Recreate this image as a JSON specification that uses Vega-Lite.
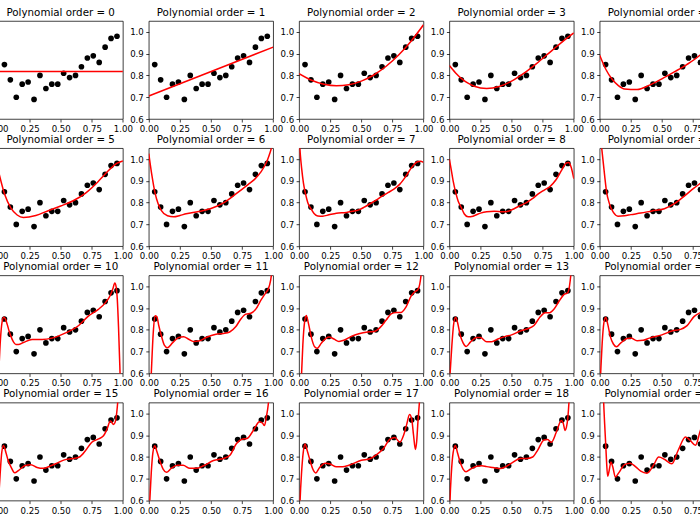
{
"$schema":"https://vega.github.io/schema/vega-lite/v6.json",
"padding":{"left":-21.5,"top":7,"right":-33,"bottom":0},
"background":"#ffffff",
"columns":5,
"spacing":{"row":29.2,"column":25.3},
"bounds":"flush",
"datasets":{
"pts":[
{"x":0.0476,"y":0.85},{"x":0.0952,"y":0.78},{"x":0.1429,"y":0.70},{"x":0.1905,"y":0.76},{"x":0.2381,"y":0.77},
{"x":0.2857,"y":0.69},{"x":0.3333,"y":0.80},{"x":0.3810,"y":0.74},{"x":0.4286,"y":0.76},{"x":0.4762,"y":0.76},
{"x":0.5238,"y":0.81},{"x":0.5714,"y":0.79},{"x":0.6190,"y":0.80},{"x":0.6667,"y":0.84},{"x":0.7143,"y":0.88},
{"x":0.7619,"y":0.89},{"x":0.8095,"y":0.86},{"x":0.8571,"y":0.93},{"x":0.9048,"y":0.97},{"x":0.9524,"y":0.98}
],
"fit":[
{"order":0,"x":0,"y":0.818},{"order":0,"x":1,"y":0.818},
{"order":1,"x":0,"y":0.7059},{"order":1,"x":1,"y":0.9301},
{"order":2,"x":0,"y":0.8084},{"order":2,"x":0.1,"y":0.778},{"order":2,"x":0.2,"y":0.7593},{"order":2,"x":0.3,"y":0.7524},{"order":2,"x":0.4,"y":0.7572},{"order":2,"x":0.5,"y":0.7738},{"order":2,"x":0.6,"y":0.8021},{"order":2,"x":0.7,"y":0.8421},{"order":2,"x":0.8,"y":0.8938},{"order":2,"x":0.9,"y":0.9573},{"order":2,"x":1,"y":1.0326},
{"order":3,"x":0,"y":0.8455},{"order":3,"x":0.05,"y":0.8113},{"order":3,"x":0.1,"y":0.7844},{"order":3,"x":0.15,"y":0.7643},{"order":3,"x":0.2,"y":0.7505},{"order":3,"x":0.3,"y":0.7401},{"order":3,"x":0.4,"y":0.7491},{"order":3,"x":0.5,"y":0.7738},{"order":3,"x":0.6,"y":0.8102},{"order":3,"x":0.7,"y":0.8544},{"order":3,"x":0.8,"y":0.9026},{"order":3,"x":0.85,"y":0.927},{"order":3,"x":0.9,"y":0.9509},{"order":3,"x":0.95,"y":0.9739},{"order":3,"x":1,"y":0.9955},
{"order":4,"x":0,"y":0.8924},{"order":4,"x":0.05,"y":0.8272},{"order":4,"x":0.1,"y":0.7822},{"order":4,"x":0.15,"y":0.7536},{"order":4,"x":0.2,"y":0.7382},{"order":4,"x":0.3,"y":0.7356},{"order":4,"x":0.4,"y":0.7553},{"order":4,"x":0.5,"y":0.7845},{"order":4,"x":0.6,"y":0.8164},{"order":4,"x":0.7,"y":0.8499},{"order":4,"x":0.8,"y":0.8903},{"order":4,"x":0.85,"y":0.9164},{"order":4,"x":0.9,"y":0.9487},{"order":4,"x":0.95,"y":0.9898},{"order":4,"x":1,"y":1.0424},
{"order":5,"x":0,"y":0.9438},{"order":5,"x":0.05,"y":0.8371},{"order":5,"x":0.1,"y":0.7748},{"order":5,"x":0.15,"y":0.7433},{"order":5,"x":0.2,"y":0.7322},{"order":5,"x":0.3,"y":0.7414},{"order":5,"x":0.4,"y":0.7631},{"order":5,"x":0.5,"y":0.7845},{"order":5,"x":0.6,"y":0.8086},{"order":5,"x":0.7,"y":0.8441},{"order":5,"x":0.8,"y":0.8963},{"order":5,"x":0.85,"y":0.9267},{"order":5,"x":0.9,"y":0.9561},{"order":5,"x":0.95,"y":0.9799},{"order":5,"x":1,"y":0.991},
{"order":6,"x":0,"y":1.025},{"order":6,"x":0.025,"y":0.925},{"order":6,"x":0.05,"y":0.845},{"order":6,"x":0.075,"y":0.795},{"order":6,"x":0.1,"y":0.765},{"order":6,"x":0.15,"y":0.74},{"order":6,"x":0.2,"y":0.735},{"order":6,"x":0.25,"y":0.741},{"order":6,"x":0.3,"y":0.749},{"order":6,"x":0.4,"y":0.759},{"order":6,"x":0.5,"y":0.773},{"order":6,"x":0.6,"y":0.799},{"order":6,"x":0.7,"y":0.84},{"order":6,"x":0.8,"y":0.884},{"order":6,"x":0.85,"y":0.907},{"order":6,"x":0.9,"y":0.94},{"order":6,"x":0.95,"y":0.99},{"order":6,"x":0.975,"y":1.03},{"order":6,"x":1,"y":1.08},
{"order":7,"x":0,"y":1.1},{"order":7,"x":0.01,"y":1.02},{"order":7,"x":0.02,"y":0.96},{"order":7,"x":0.035,"y":0.89},{"order":7,"x":0.05,"y":0.845},{"order":7,"x":0.07,"y":0.8},{"order":7,"x":0.095,"y":0.772},{"order":7,"x":0.12,"y":0.75},{"order":7,"x":0.15,"y":0.739},{"order":7,"x":0.19,"y":0.738},{"order":7,"x":0.24,"y":0.744},{"order":7,"x":0.3,"y":0.751},{"order":7,"x":0.38,"y":0.755},{"order":7,"x":0.43,"y":0.76},{"order":7,"x":0.48,"y":0.767},{"order":7,"x":0.52,"y":0.778},{"order":7,"x":0.57,"y":0.795},{"order":7,"x":0.62,"y":0.812},{"order":7,"x":0.667,"y":0.83},{"order":7,"x":0.714,"y":0.846},{"order":7,"x":0.762,"y":0.862},{"order":7,"x":0.81,"y":0.885},{"order":7,"x":0.857,"y":0.92},{"order":7,"x":0.905,"y":0.962},{"order":7,"x":0.952,"y":0.988},{"order":7,"x":0.975,"y":0.99},{"order":7,"x":1,"y":0.985},
{"order":8,"x":0,"y":1.0},{"order":8,"x":0.015,"y":0.95},{"order":8,"x":0.03,"y":0.9},{"order":8,"x":0.048,"y":0.853},{"order":8,"x":0.07,"y":0.808},{"order":8,"x":0.095,"y":0.778},{"order":8,"x":0.12,"y":0.748},{"order":8,"x":0.15,"y":0.735},{"order":8,"x":0.19,"y":0.738},{"order":8,"x":0.25,"y":0.752},{"order":8,"x":0.3,"y":0.758},{"order":8,"x":0.36,"y":0.76},{"order":8,"x":0.43,"y":0.758},{"order":8,"x":0.48,"y":0.762},{"order":8,"x":0.52,"y":0.772},{"order":8,"x":0.57,"y":0.787},{"order":8,"x":0.62,"y":0.8},{"order":8,"x":0.667,"y":0.818},{"order":8,"x":0.714,"y":0.84},{"order":8,"x":0.762,"y":0.858},{"order":8,"x":0.81,"y":0.875},{"order":8,"x":0.857,"y":0.905},{"order":8,"x":0.905,"y":0.952},{"order":8,"x":0.94,"y":0.982},{"order":8,"x":0.96,"y":0.984},{"order":8,"x":0.98,"y":0.96},{"order":8,"x":1,"y":0.91},
{"order":9,"x":0,"y":1.15},{"order":9,"x":0.01,"y":1.08},{"order":9,"x":0.02,"y":1.03},{"order":9,"x":0.04,"y":0.923},{"order":9,"x":0.054,"y":0.854},{"order":9,"x":0.08,"y":0.792},{"order":9,"x":0.11,"y":0.755},{"order":9,"x":0.147,"y":0.738},{"order":9,"x":0.2,"y":0.74},{"order":9,"x":0.25,"y":0.745},{"order":9,"x":0.33,"y":0.752},{"order":9,"x":0.42,"y":0.762},{"order":9,"x":0.52,"y":0.772},{"order":9,"x":0.6,"y":0.795},{"order":9,"x":0.68,"y":0.83},{"order":9,"x":0.76,"y":0.868},{"order":9,"x":0.82,"y":0.893},{"order":9,"x":0.86,"y":0.91},{"order":9,"x":0.9,"y":0.945},{"order":9,"x":0.95,"y":0.985},{"order":9,"x":1,"y":0.96},
{"order":10,"x":0,"y":0.58},{"order":10,"x":0.01,"y":0.7},{"order":10,"x":0.02,"y":0.79},{"order":10,"x":0.03,"y":0.84},{"order":10,"x":0.042,"y":0.858},{"order":10,"x":0.055,"y":0.85},{"order":10,"x":0.07,"y":0.825},{"order":10,"x":0.085,"y":0.795},{"order":10,"x":0.1,"y":0.77},{"order":10,"x":0.12,"y":0.745},{"order":10,"x":0.14,"y":0.733},{"order":10,"x":0.16,"y":0.733},{"order":10,"x":0.2,"y":0.742},{"order":10,"x":0.27,"y":0.756},{"order":10,"x":0.35,"y":0.756},{"order":10,"x":0.43,"y":0.762},{"order":10,"x":0.54,"y":0.786},{"order":10,"x":0.645,"y":0.82},{"order":10,"x":0.72,"y":0.862},{"order":10,"x":0.8,"y":0.893},{"order":10,"x":0.86,"y":0.925},{"order":10,"x":0.9,"y":0.96},{"order":10,"x":0.92,"y":0.99},{"order":10,"x":0.935,"y":1.015},{"order":10,"x":0.945,"y":1.0},{"order":10,"x":0.955,"y":0.94},{"order":10,"x":0.965,"y":0.81},{"order":10,"x":0.975,"y":0.64},{"order":10,"x":0.985,"y":0.45},{"order":10,"x":1,"y":0.1},
{"order":11,"x":0,"y":0.35},{"order":11,"x":0.02,"y":0.6},{"order":11,"x":0.035,"y":0.78},{"order":11,"x":0.05,"y":0.865},{"order":11,"x":0.065,"y":0.86},{"order":11,"x":0.08,"y":0.82},{"order":11,"x":0.1,"y":0.775},{"order":11,"x":0.125,"y":0.73},{"order":11,"x":0.15,"y":0.718},{"order":11,"x":0.19,"y":0.74},{"order":11,"x":0.24,"y":0.765},{"order":11,"x":0.28,"y":0.768},{"order":11,"x":0.32,"y":0.757},{"order":11,"x":0.36,"y":0.747},{"order":11,"x":0.41,"y":0.75},{"order":11,"x":0.46,"y":0.765},{"order":11,"x":0.54,"y":0.78},{"order":11,"x":0.6,"y":0.783},{"order":11,"x":0.65,"y":0.79},{"order":11,"x":0.7,"y":0.815},{"order":11,"x":0.74,"y":0.85},{"order":11,"x":0.78,"y":0.872},{"order":11,"x":0.82,"y":0.876},{"order":11,"x":0.86,"y":0.895},{"order":11,"x":0.9,"y":0.935},{"order":11,"x":0.94,"y":0.97},{"order":11,"x":0.96,"y":0.987},{"order":11,"x":0.98,"y":1.03},{"order":11,"x":1,"y":1.12},
{"order":12,"x":0,"y":0.3},{"order":12,"x":0.02,"y":0.6},{"order":12,"x":0.03,"y":0.73},{"order":12,"x":0.045,"y":0.84},{"order":12,"x":0.058,"y":0.866},{"order":12,"x":0.075,"y":0.83},{"order":12,"x":0.1,"y":0.762},{"order":12,"x":0.125,"y":0.722},{"order":12,"x":0.145,"y":0.715},{"order":12,"x":0.18,"y":0.74},{"order":12,"x":0.24,"y":0.767},{"order":12,"x":0.28,"y":0.758},{"order":12,"x":0.32,"y":0.747},{"order":12,"x":0.36,"y":0.752},{"order":12,"x":0.42,"y":0.77},{"order":12,"x":0.48,"y":0.782},{"order":12,"x":0.55,"y":0.79},{"order":12,"x":0.6,"y":0.792},{"order":12,"x":0.65,"y":0.81},{"order":12,"x":0.7,"y":0.845},{"order":12,"x":0.74,"y":0.873},{"order":12,"x":0.78,"y":0.88},{"order":12,"x":0.82,"y":0.88},{"order":12,"x":0.86,"y":0.905},{"order":12,"x":0.9,"y":0.955},{"order":12,"x":0.93,"y":0.975},{"order":12,"x":0.955,"y":0.985},{"order":12,"x":0.97,"y":1.01},{"order":12,"x":0.985,"y":1.08},{"order":12,"x":1,"y":1.25},
{"order":13,"x":0,"y":0.55},{"order":13,"x":0.01,"y":0.64},{"order":13,"x":0.02,"y":0.73},{"order":13,"x":0.035,"y":0.83},{"order":13,"x":0.05,"y":0.858},{"order":13,"x":0.065,"y":0.835},{"order":13,"x":0.085,"y":0.78},{"order":13,"x":0.11,"y":0.74},{"order":13,"x":0.135,"y":0.724},{"order":13,"x":0.17,"y":0.745},{"order":13,"x":0.22,"y":0.765},{"order":13,"x":0.25,"y":0.765},{"order":13,"x":0.3,"y":0.745},{"order":13,"x":0.34,"y":0.745},{"order":13,"x":0.39,"y":0.758},{"order":13,"x":0.45,"y":0.77},{"order":13,"x":0.5,"y":0.777},{"order":13,"x":0.57,"y":0.795},{"order":13,"x":0.63,"y":0.805},{"order":13,"x":0.68,"y":0.82},{"order":13,"x":0.73,"y":0.86},{"order":13,"x":0.77,"y":0.878},{"order":13,"x":0.8,"y":0.878},{"order":13,"x":0.84,"y":0.895},{"order":13,"x":0.88,"y":0.93},{"order":13,"x":0.92,"y":0.962},{"order":13,"x":0.95,"y":0.97},{"order":13,"x":0.965,"y":1.0},{"order":13,"x":0.98,"y":1.08},{"order":13,"x":1,"y":1.3},
{"order":14,"x":0,"y":0.5},{"order":14,"x":0.01,"y":0.63},{"order":14,"x":0.02,"y":0.74},{"order":14,"x":0.033,"y":0.83},{"order":14,"x":0.048,"y":0.858},{"order":14,"x":0.065,"y":0.825},{"order":14,"x":0.085,"y":0.77},{"order":14,"x":0.11,"y":0.735},{"order":14,"x":0.135,"y":0.722},{"order":14,"x":0.17,"y":0.74},{"order":14,"x":0.22,"y":0.76},{"order":14,"x":0.25,"y":0.762},{"order":14,"x":0.3,"y":0.75},{"order":14,"x":0.35,"y":0.752},{"order":14,"x":0.4,"y":0.762},{"order":14,"x":0.5,"y":0.777},{"order":14,"x":0.58,"y":0.795},{"order":14,"x":0.65,"y":0.802},{"order":14,"x":0.7,"y":0.818},{"order":14,"x":0.76,"y":0.862},{"order":14,"x":0.82,"y":0.882},{"order":14,"x":0.86,"y":0.89},{"order":14,"x":0.9,"y":0.94},{"order":14,"x":0.95,"y":0.97},{"order":14,"x":1,"y":1.1},
{"order":15,"x":0,"y":0.6},{"order":15,"x":0.013,"y":0.72},{"order":15,"x":0.026,"y":0.82},{"order":15,"x":0.04,"y":0.853},{"order":15,"x":0.06,"y":0.82},{"order":15,"x":0.08,"y":0.78},{"order":15,"x":0.1,"y":0.755},{"order":15,"x":0.13,"y":0.728},{"order":15,"x":0.16,"y":0.738},{"order":15,"x":0.21,"y":0.76},{"order":15,"x":0.26,"y":0.765},{"order":15,"x":0.31,"y":0.752},{"order":15,"x":0.36,"y":0.748},{"order":15,"x":0.42,"y":0.76},{"order":15,"x":0.47,"y":0.772},{"order":15,"x":0.53,"y":0.787},{"order":15,"x":0.6,"y":0.793},{"order":15,"x":0.65,"y":0.8},{"order":15,"x":0.7,"y":0.83},{"order":15,"x":0.75,"y":0.868},{"order":15,"x":0.8,"y":0.882},{"order":15,"x":0.84,"y":0.895},{"order":15,"x":0.87,"y":0.925},{"order":15,"x":0.9,"y":0.965},{"order":15,"x":0.925,"y":0.95},{"order":15,"x":0.94,"y":0.965},{"order":15,"x":0.955,"y":1.03},{"order":15,"x":0.97,"y":1.15},{"order":15,"x":1,"y":1.5},
{"order":16,"x":0,"y":0.5},{"order":16,"x":0.008,"y":0.6},{"order":16,"x":0.02,"y":0.73},{"order":16,"x":0.033,"y":0.82},{"order":16,"x":0.048,"y":0.852},{"order":16,"x":0.065,"y":0.825},{"order":16,"x":0.088,"y":0.784},{"order":16,"x":0.115,"y":0.745},{"order":16,"x":0.142,"y":0.73},{"order":16,"x":0.18,"y":0.748},{"order":16,"x":0.23,"y":0.762},{"order":16,"x":0.276,"y":0.762},{"order":16,"x":0.33,"y":0.748},{"order":16,"x":0.38,"y":0.748},{"order":16,"x":0.44,"y":0.76},{"order":16,"x":0.52,"y":0.784},{"order":16,"x":0.6,"y":0.793},{"order":16,"x":0.65,"y":0.807},{"order":16,"x":0.705,"y":0.862},{"order":16,"x":0.75,"y":0.882},{"order":16,"x":0.79,"y":0.885},{"order":16,"x":0.84,"y":0.922},{"order":16,"x":0.89,"y":0.962},{"order":16,"x":0.915,"y":0.955},{"order":16,"x":0.93,"y":0.945},{"order":16,"x":0.945,"y":0.985},{"order":16,"x":0.96,"y":1.04},{"order":16,"x":0.98,"y":1.2},{"order":16,"x":1,"y":1.5},
{"order":17,"x":0,"y":0.45},{"order":17,"x":0.008,"y":0.6},{"order":17,"x":0.02,"y":0.73},{"order":17,"x":0.033,"y":0.82},{"order":17,"x":0.048,"y":0.86},{"order":17,"x":0.065,"y":0.83},{"order":17,"x":0.088,"y":0.784},{"order":17,"x":0.11,"y":0.745},{"order":17,"x":0.134,"y":0.727},{"order":17,"x":0.165,"y":0.752},{"order":17,"x":0.21,"y":0.772},{"order":17,"x":0.25,"y":0.768},{"order":17,"x":0.3,"y":0.755},{"order":17,"x":0.35,"y":0.755},{"order":17,"x":0.4,"y":0.762},{"order":17,"x":0.5,"y":0.785},{"order":17,"x":0.57,"y":0.792},{"order":17,"x":0.62,"y":0.81},{"order":17,"x":0.68,"y":0.84},{"order":17,"x":0.73,"y":0.882},{"order":17,"x":0.77,"y":0.89},{"order":17,"x":0.81,"y":0.868},{"order":17,"x":0.84,"y":0.9},{"order":17,"x":0.865,"y":0.95},{"order":17,"x":0.888,"y":0.995},{"order":17,"x":0.905,"y":0.975},{"order":17,"x":0.92,"y":0.9},{"order":17,"x":0.935,"y":0.835},{"order":17,"x":0.945,"y":0.87},{"order":17,"x":0.955,"y":0.96},{"order":17,"x":0.968,"y":1.06},{"order":17,"x":0.98,"y":1.2},{"order":17,"x":1,"y":1.5},
{"order":18,"x":0,"y":0.5},{"order":18,"x":0.005,"y":0.6},{"order":18,"x":0.015,"y":0.72},{"order":18,"x":0.03,"y":0.82},{"order":18,"x":0.048,"y":0.853},{"order":18,"x":0.065,"y":0.82},{"order":18,"x":0.085,"y":0.78},{"order":18,"x":0.11,"y":0.745},{"order":18,"x":0.134,"y":0.733},{"order":18,"x":0.17,"y":0.745},{"order":18,"x":0.22,"y":0.758},{"order":18,"x":0.26,"y":0.76},{"order":18,"x":0.3,"y":0.756},{"order":18,"x":0.35,"y":0.752},{"order":18,"x":0.41,"y":0.747},{"order":18,"x":0.45,"y":0.755},{"order":18,"x":0.5,"y":0.772},{"order":18,"x":0.57,"y":0.793},{"order":18,"x":0.62,"y":0.793},{"order":18,"x":0.67,"y":0.8},{"order":18,"x":0.71,"y":0.832},{"order":18,"x":0.76,"y":0.878},{"order":18,"x":0.79,"y":0.88},{"order":18,"x":0.82,"y":0.868},{"order":18,"x":0.86,"y":0.915},{"order":18,"x":0.9,"y":0.968},{"order":18,"x":0.915,"y":0.955},{"order":18,"x":0.93,"y":0.922},{"order":18,"x":0.94,"y":0.935},{"order":18,"x":0.952,"y":0.98},{"order":18,"x":0.962,"y":1.06},{"order":18,"x":0.98,"y":1.3},{"order":18,"x":1,"y":1.6},
{"order":19,"x":0,"y":2.0},{"order":19,"x":0.02,"y":1.3},{"order":19,"x":0.032,"y":1.05},{"order":19,"x":0.04,"y":0.95},{"order":19,"x":0.048,"y":0.862},{"order":19,"x":0.055,"y":0.78},{"order":19,"x":0.064,"y":0.712},{"order":19,"x":0.075,"y":0.735},{"order":19,"x":0.091,"y":0.777},{"order":19,"x":0.105,"y":0.755},{"order":19,"x":0.126,"y":0.708},{"order":19,"x":0.15,"y":0.725},{"order":19,"x":0.2,"y":0.765},{"order":19,"x":0.245,"y":0.772},{"order":19,"x":0.29,"y":0.755},{"order":19,"x":0.33,"y":0.735},{"order":19,"x":0.38,"y":0.726},{"order":19,"x":0.43,"y":0.76},{"order":19,"x":0.475,"y":0.8},{"order":19,"x":0.52,"y":0.79},{"order":19,"x":0.58,"y":0.769},{"order":19,"x":0.63,"y":0.83},{"order":19,"x":0.69,"y":0.892},{"order":19,"x":0.73,"y":0.875},{"order":19,"x":0.77,"y":0.854},{"order":19,"x":0.815,"y":0.93},{"order":19,"x":0.86,"y":0.95},{"order":19,"x":0.9,"y":0.96},{"order":19,"x":0.95,"y":0.99},{"order":19,"x":1,"y":1.1}
]
},
"concat":[
{"title":"Polynomial order = 0","width":124.4,"height":98,"encoding":{"x":{"field":"x","type":"quantitative","title":null,"scale":{"domain":[0,1],"nice":false,"zero":false},"axis":{"values":[0,0.25,0.5,0.75,1],"format":".2f"}},"y":{"field":"y","type":"quantitative","title":null,"scale":{"domain":[0.6,1.05],"nice":false,"zero":false},"axis":{"values":[0.6,0.7,0.8,0.9,1.0],"format":".1f"}}},"layer":[{"data":{"name":"pts"},"mark":{"type":"circle","size":32,"color":"#000000","opacity":1}},{"data":{"name":"fit"},"transform":[{"filter":"datum.order == 0"}],"mark":{"type":"line","color":"#ff0000","strokeWidth":1.5,"clip":true,"interpolate":"monotone"}}]},
{"title":"Polynomial order = 1","width":124.4,"height":98,"encoding":{"x":{"field":"x","type":"quantitative","title":null,"scale":{"domain":[0,1],"nice":false,"zero":false},"axis":{"values":[0,0.25,0.5,0.75,1],"format":".2f"}},"y":{"field":"y","type":"quantitative","title":null,"scale":{"domain":[0.6,1.05],"nice":false,"zero":false},"axis":{"values":[0.6,0.7,0.8,0.9,1.0],"format":".1f"}}},"layer":[{"data":{"name":"pts"},"mark":{"type":"circle","size":32,"color":"#000000","opacity":1}},{"data":{"name":"fit"},"transform":[{"filter":"datum.order == 1"}],"mark":{"type":"line","color":"#ff0000","strokeWidth":1.5,"clip":true,"interpolate":"monotone"}}]},
{"title":"Polynomial order = 2","width":124.4,"height":98,"encoding":{"x":{"field":"x","type":"quantitative","title":null,"scale":{"domain":[0,1],"nice":false,"zero":false},"axis":{"values":[0,0.25,0.5,0.75,1],"format":".2f"}},"y":{"field":"y","type":"quantitative","title":null,"scale":{"domain":[0.6,1.05],"nice":false,"zero":false},"axis":{"values":[0.6,0.7,0.8,0.9,1.0],"format":".1f"}}},"layer":[{"data":{"name":"pts"},"mark":{"type":"circle","size":32,"color":"#000000","opacity":1}},{"data":{"name":"fit"},"transform":[{"filter":"datum.order == 2"}],"mark":{"type":"line","color":"#ff0000","strokeWidth":1.5,"clip":true,"interpolate":"monotone"}}]},
{"title":"Polynomial order = 3","width":124.4,"height":98,"encoding":{"x":{"field":"x","type":"quantitative","title":null,"scale":{"domain":[0,1],"nice":false,"zero":false},"axis":{"values":[0,0.25,0.5,0.75,1],"format":".2f"}},"y":{"field":"y","type":"quantitative","title":null,"scale":{"domain":[0.6,1.05],"nice":false,"zero":false},"axis":{"values":[0.6,0.7,0.8,0.9,1.0],"format":".1f"}}},"layer":[{"data":{"name":"pts"},"mark":{"type":"circle","size":32,"color":"#000000","opacity":1}},{"data":{"name":"fit"},"transform":[{"filter":"datum.order == 3"}],"mark":{"type":"line","color":"#ff0000","strokeWidth":1.5,"clip":true,"interpolate":"monotone"}}]},
{"title":"Polynomial order = 4","width":124.4,"height":98,"encoding":{"x":{"field":"x","type":"quantitative","title":null,"scale":{"domain":[0,1],"nice":false,"zero":false},"axis":{"values":[0,0.25,0.5,0.75,1],"format":".2f"}},"y":{"field":"y","type":"quantitative","title":null,"scale":{"domain":[0.6,1.05],"nice":false,"zero":false},"axis":{"values":[0.6,0.7,0.8,0.9,1.0],"format":".1f"}}},"layer":[{"data":{"name":"pts"},"mark":{"type":"circle","size":32,"color":"#000000","opacity":1}},{"data":{"name":"fit"},"transform":[{"filter":"datum.order == 4"}],"mark":{"type":"line","color":"#ff0000","strokeWidth":1.5,"clip":true,"interpolate":"monotone"}}]},
{"title":"Polynomial order = 5","width":124.4,"height":98,"encoding":{"x":{"field":"x","type":"quantitative","title":null,"scale":{"domain":[0,1],"nice":false,"zero":false},"axis":{"values":[0,0.25,0.5,0.75,1],"format":".2f"}},"y":{"field":"y","type":"quantitative","title":null,"scale":{"domain":[0.6,1.05],"nice":false,"zero":false},"axis":{"values":[0.6,0.7,0.8,0.9,1.0],"format":".1f"}}},"layer":[{"data":{"name":"pts"},"mark":{"type":"circle","size":32,"color":"#000000","opacity":1}},{"data":{"name":"fit"},"transform":[{"filter":"datum.order == 5"}],"mark":{"type":"line","color":"#ff0000","strokeWidth":1.5,"clip":true,"interpolate":"monotone"}}]},
{"title":"Polynomial order = 6","width":124.4,"height":98,"encoding":{"x":{"field":"x","type":"quantitative","title":null,"scale":{"domain":[0,1],"nice":false,"zero":false},"axis":{"values":[0,0.25,0.5,0.75,1],"format":".2f"}},"y":{"field":"y","type":"quantitative","title":null,"scale":{"domain":[0.6,1.05],"nice":false,"zero":false},"axis":{"values":[0.6,0.7,0.8,0.9,1.0],"format":".1f"}}},"layer":[{"data":{"name":"pts"},"mark":{"type":"circle","size":32,"color":"#000000","opacity":1}},{"data":{"name":"fit"},"transform":[{"filter":"datum.order == 6"}],"mark":{"type":"line","color":"#ff0000","strokeWidth":1.5,"clip":true,"interpolate":"monotone"}}]},
{"title":"Polynomial order = 7","width":124.4,"height":98,"encoding":{"x":{"field":"x","type":"quantitative","title":null,"scale":{"domain":[0,1],"nice":false,"zero":false},"axis":{"values":[0,0.25,0.5,0.75,1],"format":".2f"}},"y":{"field":"y","type":"quantitative","title":null,"scale":{"domain":[0.6,1.05],"nice":false,"zero":false},"axis":{"values":[0.6,0.7,0.8,0.9,1.0],"format":".1f"}}},"layer":[{"data":{"name":"pts"},"mark":{"type":"circle","size":32,"color":"#000000","opacity":1}},{"data":{"name":"fit"},"transform":[{"filter":"datum.order == 7"}],"mark":{"type":"line","color":"#ff0000","strokeWidth":1.5,"clip":true,"interpolate":"monotone"}}]},
{"title":"Polynomial order = 8","width":124.4,"height":98,"encoding":{"x":{"field":"x","type":"quantitative","title":null,"scale":{"domain":[0,1],"nice":false,"zero":false},"axis":{"values":[0,0.25,0.5,0.75,1],"format":".2f"}},"y":{"field":"y","type":"quantitative","title":null,"scale":{"domain":[0.6,1.05],"nice":false,"zero":false},"axis":{"values":[0.6,0.7,0.8,0.9,1.0],"format":".1f"}}},"layer":[{"data":{"name":"pts"},"mark":{"type":"circle","size":32,"color":"#000000","opacity":1}},{"data":{"name":"fit"},"transform":[{"filter":"datum.order == 8"}],"mark":{"type":"line","color":"#ff0000","strokeWidth":1.5,"clip":true,"interpolate":"monotone"}}]},
{"title":"Polynomial order = 9","width":124.4,"height":98,"encoding":{"x":{"field":"x","type":"quantitative","title":null,"scale":{"domain":[0,1],"nice":false,"zero":false},"axis":{"values":[0,0.25,0.5,0.75,1],"format":".2f"}},"y":{"field":"y","type":"quantitative","title":null,"scale":{"domain":[0.6,1.05],"nice":false,"zero":false},"axis":{"values":[0.6,0.7,0.8,0.9,1.0],"format":".1f"}}},"layer":[{"data":{"name":"pts"},"mark":{"type":"circle","size":32,"color":"#000000","opacity":1}},{"data":{"name":"fit"},"transform":[{"filter":"datum.order == 9"}],"mark":{"type":"line","color":"#ff0000","strokeWidth":1.5,"clip":true,"interpolate":"monotone"}}]},
{"title":"Polynomial order = 10","width":124.4,"height":98,"encoding":{"x":{"field":"x","type":"quantitative","title":null,"scale":{"domain":[0,1],"nice":false,"zero":false},"axis":{"values":[0,0.25,0.5,0.75,1],"format":".2f"}},"y":{"field":"y","type":"quantitative","title":null,"scale":{"domain":[0.6,1.05],"nice":false,"zero":false},"axis":{"values":[0.6,0.7,0.8,0.9,1.0],"format":".1f"}}},"layer":[{"data":{"name":"pts"},"mark":{"type":"circle","size":32,"color":"#000000","opacity":1}},{"data":{"name":"fit"},"transform":[{"filter":"datum.order == 10"}],"mark":{"type":"line","color":"#ff0000","strokeWidth":1.5,"clip":true,"interpolate":"monotone"}}]},
{"title":"Polynomial order = 11","width":124.4,"height":98,"encoding":{"x":{"field":"x","type":"quantitative","title":null,"scale":{"domain":[0,1],"nice":false,"zero":false},"axis":{"values":[0,0.25,0.5,0.75,1],"format":".2f"}},"y":{"field":"y","type":"quantitative","title":null,"scale":{"domain":[0.6,1.05],"nice":false,"zero":false},"axis":{"values":[0.6,0.7,0.8,0.9,1.0],"format":".1f"}}},"layer":[{"data":{"name":"pts"},"mark":{"type":"circle","size":32,"color":"#000000","opacity":1}},{"data":{"name":"fit"},"transform":[{"filter":"datum.order == 11"}],"mark":{"type":"line","color":"#ff0000","strokeWidth":1.5,"clip":true,"interpolate":"monotone"}}]},
{"title":"Polynomial order = 12","width":124.4,"height":98,"encoding":{"x":{"field":"x","type":"quantitative","title":null,"scale":{"domain":[0,1],"nice":false,"zero":false},"axis":{"values":[0,0.25,0.5,0.75,1],"format":".2f"}},"y":{"field":"y","type":"quantitative","title":null,"scale":{"domain":[0.6,1.05],"nice":false,"zero":false},"axis":{"values":[0.6,0.7,0.8,0.9,1.0],"format":".1f"}}},"layer":[{"data":{"name":"pts"},"mark":{"type":"circle","size":32,"color":"#000000","opacity":1}},{"data":{"name":"fit"},"transform":[{"filter":"datum.order == 12"}],"mark":{"type":"line","color":"#ff0000","strokeWidth":1.5,"clip":true,"interpolate":"monotone"}}]},
{"title":"Polynomial order = 13","width":124.4,"height":98,"encoding":{"x":{"field":"x","type":"quantitative","title":null,"scale":{"domain":[0,1],"nice":false,"zero":false},"axis":{"values":[0,0.25,0.5,0.75,1],"format":".2f"}},"y":{"field":"y","type":"quantitative","title":null,"scale":{"domain":[0.6,1.05],"nice":false,"zero":false},"axis":{"values":[0.6,0.7,0.8,0.9,1.0],"format":".1f"}}},"layer":[{"data":{"name":"pts"},"mark":{"type":"circle","size":32,"color":"#000000","opacity":1}},{"data":{"name":"fit"},"transform":[{"filter":"datum.order == 13"}],"mark":{"type":"line","color":"#ff0000","strokeWidth":1.5,"clip":true,"interpolate":"monotone"}}]},
{"title":"Polynomial order = 14","width":124.4,"height":98,"encoding":{"x":{"field":"x","type":"quantitative","title":null,"scale":{"domain":[0,1],"nice":false,"zero":false},"axis":{"values":[0,0.25,0.5,0.75,1],"format":".2f"}},"y":{"field":"y","type":"quantitative","title":null,"scale":{"domain":[0.6,1.05],"nice":false,"zero":false},"axis":{"values":[0.6,0.7,0.8,0.9,1.0],"format":".1f"}}},"layer":[{"data":{"name":"pts"},"mark":{"type":"circle","size":32,"color":"#000000","opacity":1}},{"data":{"name":"fit"},"transform":[{"filter":"datum.order == 14"}],"mark":{"type":"line","color":"#ff0000","strokeWidth":1.5,"clip":true,"interpolate":"monotone"}}]},
{"title":"Polynomial order = 15","width":124.4,"height":98,"encoding":{"x":{"field":"x","type":"quantitative","title":null,"scale":{"domain":[0,1],"nice":false,"zero":false},"axis":{"values":[0,0.25,0.5,0.75,1],"format":".2f"}},"y":{"field":"y","type":"quantitative","title":null,"scale":{"domain":[0.6,1.05],"nice":false,"zero":false},"axis":{"values":[0.6,0.7,0.8,0.9,1.0],"format":".1f"}}},"layer":[{"data":{"name":"pts"},"mark":{"type":"circle","size":32,"color":"#000000","opacity":1}},{"data":{"name":"fit"},"transform":[{"filter":"datum.order == 15"}],"mark":{"type":"line","color":"#ff0000","strokeWidth":1.5,"clip":true,"interpolate":"monotone"}}]},
{"title":"Polynomial order = 16","width":124.4,"height":98,"encoding":{"x":{"field":"x","type":"quantitative","title":null,"scale":{"domain":[0,1],"nice":false,"zero":false},"axis":{"values":[0,0.25,0.5,0.75,1],"format":".2f"}},"y":{"field":"y","type":"quantitative","title":null,"scale":{"domain":[0.6,1.05],"nice":false,"zero":false},"axis":{"values":[0.6,0.7,0.8,0.9,1.0],"format":".1f"}}},"layer":[{"data":{"name":"pts"},"mark":{"type":"circle","size":32,"color":"#000000","opacity":1}},{"data":{"name":"fit"},"transform":[{"filter":"datum.order == 16"}],"mark":{"type":"line","color":"#ff0000","strokeWidth":1.5,"clip":true,"interpolate":"monotone"}}]},
{"title":"Polynomial order = 17","width":124.4,"height":98,"encoding":{"x":{"field":"x","type":"quantitative","title":null,"scale":{"domain":[0,1],"nice":false,"zero":false},"axis":{"values":[0,0.25,0.5,0.75,1],"format":".2f"}},"y":{"field":"y","type":"quantitative","title":null,"scale":{"domain":[0.6,1.05],"nice":false,"zero":false},"axis":{"values":[0.6,0.7,0.8,0.9,1.0],"format":".1f"}}},"layer":[{"data":{"name":"pts"},"mark":{"type":"circle","size":32,"color":"#000000","opacity":1}},{"data":{"name":"fit"},"transform":[{"filter":"datum.order == 17"}],"mark":{"type":"line","color":"#ff0000","strokeWidth":1.5,"clip":true,"interpolate":"monotone"}}]},
{"title":"Polynomial order = 18","width":124.4,"height":98,"encoding":{"x":{"field":"x","type":"quantitative","title":null,"scale":{"domain":[0,1],"nice":false,"zero":false},"axis":{"values":[0,0.25,0.5,0.75,1],"format":".2f"}},"y":{"field":"y","type":"quantitative","title":null,"scale":{"domain":[0.6,1.05],"nice":false,"zero":false},"axis":{"values":[0.6,0.7,0.8,0.9,1.0],"format":".1f"}}},"layer":[{"data":{"name":"pts"},"mark":{"type":"circle","size":32,"color":"#000000","opacity":1}},{"data":{"name":"fit"},"transform":[{"filter":"datum.order == 18"}],"mark":{"type":"line","color":"#ff0000","strokeWidth":1.5,"clip":true,"interpolate":"monotone"}}]},
{"title":"Polynomial order = 19","width":124.4,"height":98,"encoding":{"x":{"field":"x","type":"quantitative","title":null,"scale":{"domain":[0,1],"nice":false,"zero":false},"axis":{"values":[0,0.25,0.5,0.75,1],"format":".2f"}},"y":{"field":"y","type":"quantitative","title":null,"scale":{"domain":[0.6,1.05],"nice":false,"zero":false},"axis":{"values":[0.6,0.7,0.8,0.9,1.0],"format":".1f"}}},"layer":[{"data":{"name":"pts"},"mark":{"type":"circle","size":32,"color":"#000000","opacity":1}},{"data":{"name":"fit"},"transform":[{"filter":"datum.order == 19"}],"mark":{"type":"line","color":"#ff0000","strokeWidth":1.5,"clip":true,"interpolate":"monotone"}}]}
],
"config":{
"font":"DejaVu Sans",
"view":{"stroke":"#000000","strokeWidth":0.75},
"axis":{"grid":false,"domain":false,"ticks":true,"tickColor":"#000000","tickWidth":0.75,"tickSize":3,"labelFont":"DejaVu Sans","labelFontSize":8.6,"labelColor":"#000000","labelPadding":2.5,"labelFlush":false,"labelOverlap":false},
"title":{"font":"DejaVu Sans","fontSize":10.3,"fontWeight":"normal","color":"#000000","offset":3,"baseline":"alphabetic","anchor":"middle"}
}
}
